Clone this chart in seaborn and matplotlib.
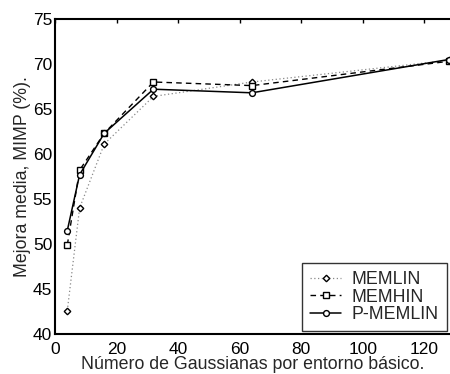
import matplotlib
matplotlib.use("Agg")
import matplotlib.pyplot as plt
import seaborn as sns
import pandas as pd

gaussians = [4, 8, 16, 32, 64, 128]
memlin = [42.6, 54.0, 61.1, 66.4, 68.0, 70.4]
memhin = [49.9, 58.2, 62.3, 68.0, 67.6, 70.3]
pmemlin = [51.5, 57.7, 62.3, 67.2, 66.8, 70.5]
series_names = ["MEMLIN", "MEMHIN", "P-MEMLIN"]
xticks = [0, 20, 40, 60, 80, 100, 120]
yticks = [40, 45, 50, 55, 60, 65, 70, 75]

df = pd.DataFrame({
    "x": gaussians * 3,
    "y": memlin + memhin + pmemlin,
    "serie": sum([[n] * len(gaussians) for n in series_names], []),
})

sns.set_style("white")
plt.rcParams["font.family"] = ["Liberation Sans", "DejaVu Sans"]

fig = plt.figure(figsize=(4.5, 3.74), dpi=100)
ax = fig.add_axes([55 / 450, 1 - 334 / 374, 395 / 450, 315 / 374])

styles = {
    "MEMLIN": dict(ls=(0, (1, 2)), marker="D", color="#888888", ms=3.3, lw=0.9),
    "MEMHIN": dict(ls=(0, (4, 3)), marker="s", color="black", ms=3.8, lw=1.0),
    "P-MEMLIN": dict(ls="-", marker="o", color="black", ms=4.2, lw=1.1),
}
for name in series_names:
    st = styles[name]
    sub = df[df["serie"] == name]
    sns.lineplot(data=sub, x="x", y="y", ax=ax, color=st["color"], linestyle=st["ls"],
                 lw=st["lw"], marker=st["marker"], markersize=st["ms"],
                 markerfacecolor="white", markeredgecolor="black", markeredgewidth=1.0,
                 label=name, clip_on=False)

ax.set_xlim(0, 128.4)
ax.set_ylim(40, 75)
ax.set_xticks(xticks)
ax.set_yticks(yticks)
ax.tick_params(direction="in", length=3, width=1, labelsize=12.5, color="black",
               top=True, right=False, labelcolor="black")
ax.tick_params(axis="x", pad=6)
ax.tick_params(axis="y", pad=2)
for s in ax.spines.values():
    s.set_linewidth(1.5)
    s.set_color("black")
ax.spines["right"].set_visible(False)
ax.set_xlabel("Número de Gaussianas por entorno básico.", fontsize=12.8, labelpad=-1)
ax.set_ylabel("Mejora media, MIMP (%).", fontsize=12.8, labelpad=1)

leg = ax.legend(loc="lower right", fontsize=12.8, frameon=True, fancybox=False,
                edgecolor="black", borderpad=0.45, labelspacing=0.02, handlelength=1.75,
                handletextpad=0.6, borderaxespad=0.17)
leg.get_frame().set_linewidth(1.0)

fig.savefig("out.png", dpi=100)
